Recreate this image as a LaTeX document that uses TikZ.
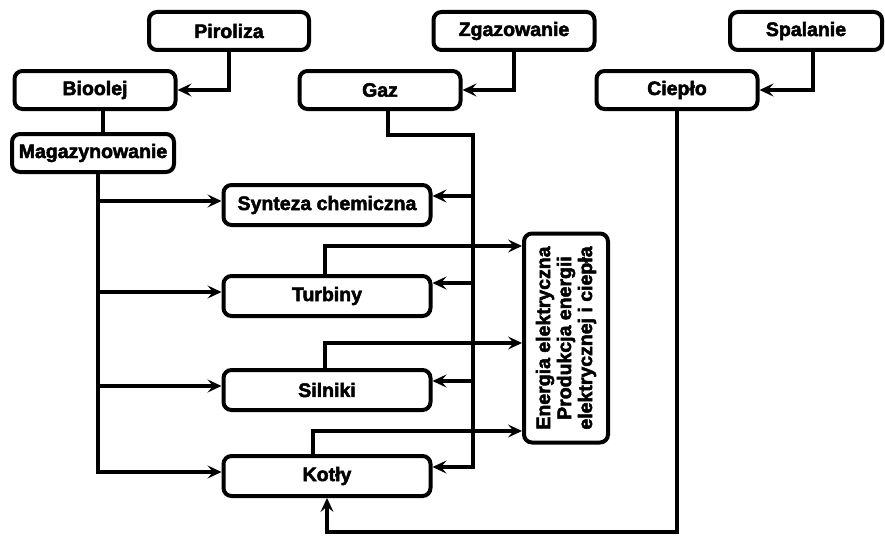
\documentclass[tikz,border=0pt]{standalone}
\usepackage{fontspec}
\usetikzlibrary{arrows.meta}
\newfontfamily\boxfont{Liberation Sans}[BoldFeatures={FakeBold=2.5}]

\begin{document}
\begin{tikzpicture}[x=1pt,y=-1pt,
  box/.style={draw, line width=4pt, rounded corners=8pt, inner sep=0pt,
    font=\boxfont\bfseries\fontsize{19.5}{21}\selectfont},
  link/.style={line width=3.6pt},
  arr/.style={link, -{Stealth[length=14pt,width=13pt,inset=5.5pt]}}]
  \useasboundingbox (0,0) rectangle (885,535);

  % Processes at the top
  \node[box, minimum width=160pt, minimum height=38pt] (pir) at (229,31) {Piroliza};
  \node[box, minimum width=161pt, minimum height=38pt] (zga) at (514,31) {Zgazowanie};
  \node[box, minimum width=152pt, minimum height=38pt] (spa) at (806,31) {Spalanie};

  % Products
  \node[box, minimum width=161pt, minimum height=38pt] (bio) at (95,90) {Bioolej};
  \node[box, minimum width=161pt, minimum height=38pt] (gaz) at (380,90) {Gaz};
  \node[box, minimum width=161pt, minimum height=38pt] (cie) at (677,90) {Ciepło};
  \node[box, minimum width=162pt, minimum height=38pt] (mag) at (93,153) {Magazynowanie};

  % Uses
  \node[box, minimum width=207pt, minimum height=40pt] (syn) at (327,205) {Synteza chemiczna};
  \node[box, minimum width=207pt, minimum height=40pt] (tur) at (327,296) {Turbiny};
  \node[box, minimum width=207pt, minimum height=40pt] (sil) at (327,390) {Silniki};
  \node[box, minimum width=207pt, minimum height=40pt] (kot) at (327,476) {Kotły};
  \node[box, rotate=90, align=center, minimum width=209pt, minimum height=84pt] (ene) at (566,338)
    {Energia elektryczna\\Produkcja energii\\elektrycznej i ciepła};

  % Top arrows
  \draw[arr] (pir.south) |- (bio.east);
  \draw[arr] (zga.south) |- (gaz.east);
  \draw[arr] ([xshift=7pt]spa.south) |- (cie.east);
  \draw[link] ([xshift=8pt]bio.south) -- ([xshift=8pt]bio.south |- mag.north);

  % Left trunk from storage
  \coordinate (lt) at (98,0);
  \draw[arr] ([xshift=5pt]mag.south) |- ([yshift=4pt]kot.west);
  \foreach \n in {syn,tur,sil} {
    \path ([yshift=4pt]\n.west) coordinate (l\n);
    \draw[arr] (l\n -| lt) -- (l\n);
  }

  % Right trunk from gas
  \coordinate (gk) at (473,135);
  \draw[arr] ([xshift=8pt]gaz.south) |- (gk) |- ([yshift=9pt]kot.east);
  \foreach \n/\s in {syn/9, tur/13, sil/9} {
    \path ([yshift=\s pt]\n.east) coordinate (r\n);
    \draw[arr] (gk |- r\n) -- (r\n);
  }

  % To electricity
  \draw[arr] ([xshift=-2pt]tur.north) |- (ene.north |- 0,246);
  \draw[arr] ([xshift=-2pt]sil.north) |- (ene.north |- 0,343);
  \draw[arr] ([xshift=-14pt]kot.north) |- (ene.north |- 0,431);

  % Heat to boilers
  \coordinate (dol) at (0,532);
  \draw[arr] (cie.south) |- (dol -| kot.south) -- (kot.south);
\end{tikzpicture}
\end{document}
